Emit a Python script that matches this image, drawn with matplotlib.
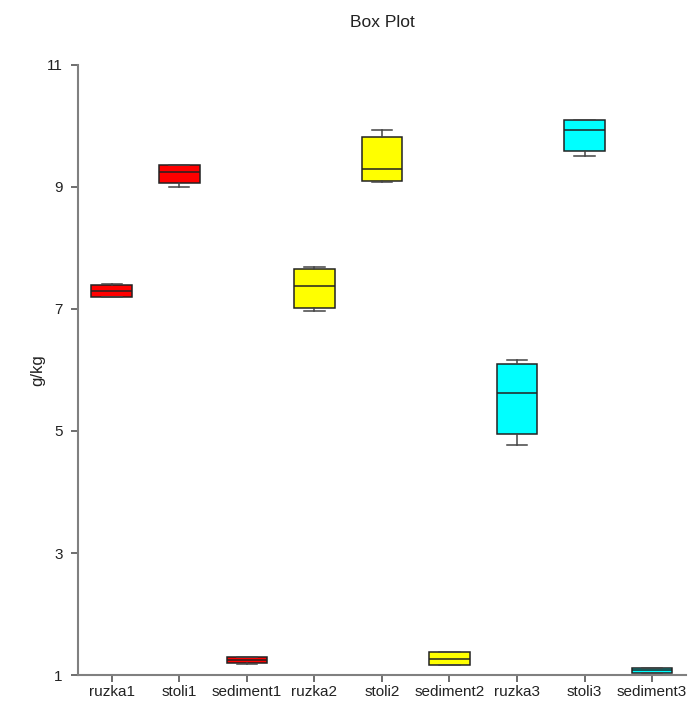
import matplotlib
matplotlib.use("Agg")
import matplotlib.pyplot as plt

plt.rcParams['font.family'] = ['Liberation Sans', 'DejaVu Sans']

# Sample groups and their five-number summaries (g/kg)
labels = ["ruzka1", "stoli1", "sediment1", "ruzka2", "stoli2", "sediment2",
          "ruzka3", "stoli3", "sediment3"]
whisker_low = [7.19, 8.99, 1.19, 6.96, 9.08, 1.16, 4.77, 9.51, 1.03]
q1 = [7.20, 9.06, 1.20, 7.01, 9.09, 1.16, 4.95, 9.58, 1.04]
medians = [7.30, 9.24, 1.25, 7.38, 9.29, 1.26, 5.62, 9.93, 1.08]
q3 = [7.40, 9.36, 1.30, 7.65, 9.81, 1.38, 6.09, 10.09, 1.11]
whisker_high = [7.41, 9.36, 1.30, 7.69, 9.93, 1.38, 6.16, 10.10, 1.11]
colors = ["#ff0000", "#ff0000", "#ff0000",
          "#ffff00", "#ffff00", "#ffff00",
          "#00ffff", "#00ffff", "#00ffff"]
yticks = [1, 3, 5, 7, 9, 11]

stats = [dict(label=l, whislo=lo, q1=a, med=m, q3=b, whishi=hi, fliers=[])
         for l, lo, a, m, b, hi in zip(labels, whisker_low, q1, medians, q3, whisker_high)]

fig = plt.figure(figsize=(6.9, 7.04), dpi=100)
ax = fig.add_axes([0.113, 0.041, 0.881, 0.867])

positions = list(range(1, len(labels) + 1))
bp = ax.bxp(stats, positions=positions, widths=0.6, patch_artist=True,
            showfliers=False, capwidths=0.3,
            boxprops=dict(edgecolor="#222222", linewidth=1.1),
            medianprops=dict(color="#222222", linewidth=1.1),
            whiskerprops=dict(color="#444444", linewidth=1.1),
            capprops=dict(color="#444444", linewidth=1.1))
for patch, c in zip(bp["boxes"], colors):
    patch.set_facecolor(c)

ax.set_xlim(0.5, 9.5)
ax.set_ylim(1, 11)
ax.set_yticks(yticks)
ax.set_xticks(positions)
ax.set_xticklabels(labels)

for side in ("top", "right"):
    ax.spines[side].set_visible(False)
for side in ("left", "bottom"):
    ax.spines[side].set_color("#808080")
    ax.spines[side].set_linewidth(1.5)
ax.tick_params(axis="both", colors="#555555", length=5, width=1.2,
               labelcolor="#222222", labelsize=11)
ax.tick_params(axis="x", pad=2)
ax.tick_params(axis="y", pad=6)

ax.set_ylabel("g/kg", fontsize=12, color="#222222", labelpad=1)
ax.set_title("Box Plot", fontsize=12.5, color="#222222", pad=27)

fig.savefig("out.png", dpi=100, facecolor="white")
